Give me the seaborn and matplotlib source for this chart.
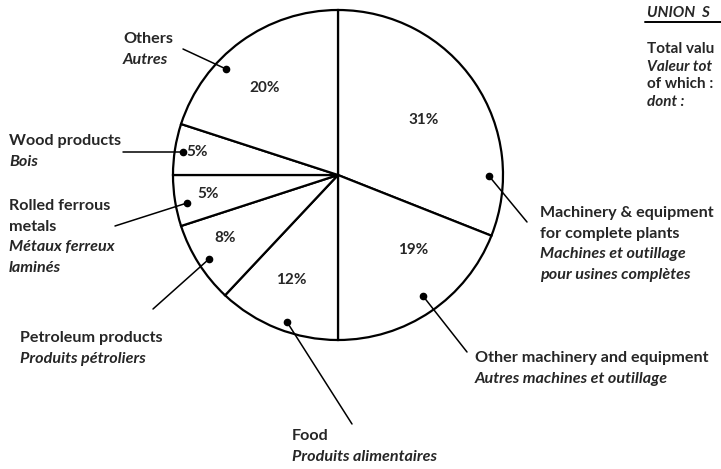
import matplotlib.pyplot as plt
import seaborn as sns

# export shares, clockwise from 12 o'clock
categories_en = [['Machinery & equipment', 'for complete plants'], ['Other machinery and equipment'], ['Food'],
                 ['Petroleum products'], ['Rolled ferrous', 'metals'], ['Wood products'], ['Others']]
categories_fr = [['Machines et outillage', 'pour usines complètes'], ['Autres machines et outillage'],
                 ['Produits alimentaires'], ['Produits pétroliers'], ['Métaux ferreux', 'laminés'], ['Bois'], ['Autres']]
shares = [31, 19, 12, 8, 5, 5, 20]

# header block at top right, as much as the page shows
header = ['Total valu', 'Valeur tot', 'of which :', 'dont :']

# layout (pixel positions, y from top)
pct_pos = [(424, 120), (413, 250), (291, 280), (225, 238), (208, 194), (197, 152), (265, 88)]
dot_pos = [(489, 176), (423, 296), (287, 322), (209, 259), (187, 203), (183, 152), (226, 69)]
line_end = [(527, 222), (467, 352), (352, 424), (153, 309), (115, 226), (123, 152), (183, 49)]
text_pos = [(540, 213), (475, 358), (292, 436), (20, 338), (9, 206), (9, 141), (123, 39)]
STEP = 20.5

W, H = 721, 469
sns.set_theme(style='white')
plt.rcParams['font.family'] = ['Lato', 'DejaVu Sans']

fig = plt.figure(figsize=(W / 100, H / 100), dpi=100)
ax = fig.add_axes([0, 0, 1, 1])


def Y(y):
    return H - y


ax.pie(shares, center=(338, Y(175)), radius=165, startangle=90, counterclock=False,
       colors=['white'] * len(shares), frame=True,
       wedgeprops=dict(edgecolor='black', linewidth=1.6))
ax.set_xlim(0, W)
ax.set_ylim(0, H)
ax.set_aspect('equal')
ax.axis('off')

FS = 11.6
for s, (px, py) in zip(shares, pct_pos):
    ax.text(px, Y(py), f'{s}%', ha='center', va='center', fontsize=11, fontweight='bold')

for (dx, dy), (lx, ly) in zip(dot_pos, line_end):
    ax.plot([dx, lx], [Y(dy), Y(ly)], color='black', lw=1.1)
    ax.plot(dx, Y(dy), 'o', color='black', ms=4.5)

for en, fr, (tx, ty) in zip(categories_en, categories_fr, text_pos):
    lines = [(t, 'normal') for t in en] + [(t, 'italic') for t in fr]
    for i, (t, st) in enumerate(lines):
        ax.text(tx, Y(ty + STEP * i), t, ha='left', va='center', fontsize=FS,
                fontweight='bold', style=st)

ax.text(647, Y(13), 'UNION  S', ha='left', va='center', fontsize=11, fontweight='bold', style='italic')
ax.plot([645, 721], [Y(22), Y(22)], color='black', lw=1.4)
for i, h in enumerate(header):
    ax.text(647, Y(49 + 17.5 * i), h, ha='left', va='center', fontsize=11, fontweight='bold',
            style='italic' if i in (1, 3) else 'normal')

fig.savefig('out.png', dpi=100, facecolor='white')
